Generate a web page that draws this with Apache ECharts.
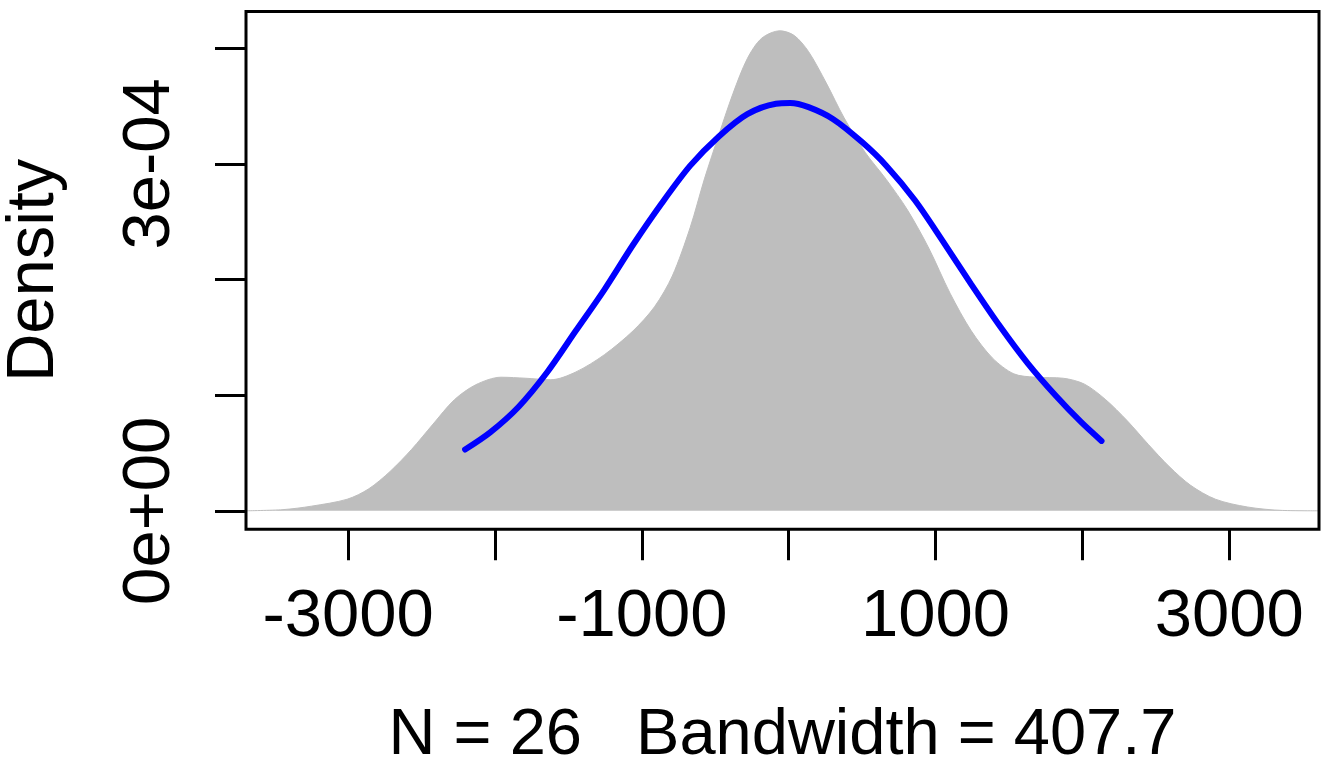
<!DOCTYPE html>
<html>
<head>
<meta charset="utf-8">
<script src="https://cdn.jsdelivr.net/npm/echarts@6/dist/echarts.min.js"></script>
<style>
  html, body { margin: 0; padding: 0; background: #fff; }
  #chart { width: 1334px; height: 766px; }
</style>
</head>
<body>
<div id="chart"></div>
<script>
// kernel density estimate (grey area): [x, density]
const densityPoints = [
  [-3696, 0], [-3444, 0.01e-4], [-3250, 0.04e-4], [-3007, 0.10e-4], [-2860, 0.19e-4],
  [-2715, 0.34e-4], [-2569, 0.53e-4], [-2422, 0.75e-4], [-2277, 0.96e-4], [-2131, 1.09e-4],
  [-1960, 1.155e-4], [-1790, 1.146e-4], [-1620, 1.133e-4], [-1450, 1.20e-4], [-1255, 1.35e-4],
  [-1060, 1.556e-4], [-914, 1.764e-4], [-793, 2.03e-4], [-671, 2.45e-4], [-574, 2.87e-4],
  [-476, 3.25e-4], [-379, 3.61e-4], [-282, 3.91e-4], [-185, 4.085e-4], [-60, 4.15e-4],
  [37, 4.11e-4], [135, 3.97e-4], [255, 3.70e-4], [376, 3.40e-4], [520, 3.10e-4],
  [664, 2.865e-4], [809, 2.60e-4], [954, 2.27e-4], [1099, 1.88e-4], [1243, 1.556e-4],
  [1388, 1.32e-4], [1533, 1.184e-4], [1677, 1.155e-4], [1870, 1.146e-4], [2014, 1.095e-4],
  [2159, 0.96e-4], [2304, 0.78e-4], [2448, 0.575e-4], [2593, 0.38e-4], [2737, 0.22e-4],
  [2906, 0.10e-4], [3123, 0.033e-4], [3364, 0.003e-4], [3611, 0]
];

// fitted normal curve (blue)
const normalPoints = [
  [-2204, 0.53e-4], [-2033, 0.678e-4], [-1839, 0.90e-4], [-1644, 1.20e-4], [-1450, 1.556e-4],
  [-1255, 1.913e-4], [-1060, 2.30e-4], [-866, 2.657e-4], [-671, 2.984e-4], [-476, 3.237e-4],
  [-282, 3.43e-4], [-87, 3.52e-4], [10, 3.526e-4], [135, 3.49e-4], [303, 3.386e-4],
  [497, 3.19e-4], [664, 2.984e-4], [858, 2.687e-4], [1050, 2.33e-4], [1243, 1.958e-4],
  [1436, 1.60e-4], [1629, 1.273e-4], [1822, 0.99e-4], [1990, 0.768e-4], [2130, 0.604e-4]
];

const xTicks = [-3000, -2000, -1000, 0, 1000, 2000, 3000];
const xTickLabels = [-3000, -1000, 1000, 3000];
const yTicks = [0, 1e-4, 2e-4, 3e-4, 4e-4];
const yTickLabels = [0, 3e-4];
const yLabelText = ['0e+00', '3e-04'];

const xTitle = 'N = 26   Bandwidth = 407.7';
const yTitle = 'Density';

const font = 'Liberation Sans, Arial, sans-serif';
const chart = echarts.init(document.getElementById('chart'));

const option = {
  animation: false,
  backgroundColor: '#fff',
  grid: {
    left: 246, top: 11.5, right: 15, bottom: 236.7,
    containLabel: false, outerBoundsMode: 'none',
    show: true, borderColor: '#000', borderWidth: 3, backgroundColor: 'transparent',
    z: 5
  },
  xAxis: {
    type: 'value',
    min: -3696, max: 3611,
    axisLine: { show: false, onZero: false },
    splitLine: { show: false },
    axisTick: {
      show: true, length: 31, customValues: xTicks,
      lineStyle: { color: '#000', width: 3 }
    },
    axisLabel: {
      customValues: xTickLabels,
      margin: 55, fontSize: 67, fontFamily: font, color: '#000',
      formatter: v => String(v)
    },
    name: xTitle,
    nameLocation: 'middle',
    nameGap: 174,
    nameTextStyle: { fontSize: 65, fontFamily: font, color: '#000' }
  },
  yAxis: {
    type: 'value',
    min: -0.16e-4, max: 4.317e-4,
    axisLine: { show: false, onZero: false },
    splitLine: { show: false },
    axisTick: {
      show: true, length: 31, customValues: yTicks,
      lineStyle: { color: '#000', width: 3 }
    },
    axisLabel: {
      customValues: yTickLabels,
      rotate: 90, margin: 62, fontSize: 67, fontFamily: font, color: '#000',
      formatter: v => (Math.abs(v) < 1e-12 ? yLabelText[0] : yLabelText[1])
    },
    name: yTitle,
    nameLocation: 'middle',
    nameRotate: 90,
    nameGap: 178,
    nameTextStyle: { fontSize: 67, fontFamily: font, color: '#000' }
  },
  series: [
    {
      name: 'density',
      type: 'line',
      data: densityPoints,
      smooth: 0.3,
      showSymbol: false,
      lineStyle: { color: '#bebebe', width: 1 },
      areaStyle: { color: '#bebebe', opacity: 1 },
      z: 1
    },
    {
      name: 'normal',
      type: 'line',
      data: normalPoints,
      smooth: 0.3,
      showSymbol: false,
      lineStyle: { color: '#0000ff', width: 6, cap: 'round' },
      z: 2
    }
  ]
};

chart.setOption(option);
</script>
</body>
</html>
